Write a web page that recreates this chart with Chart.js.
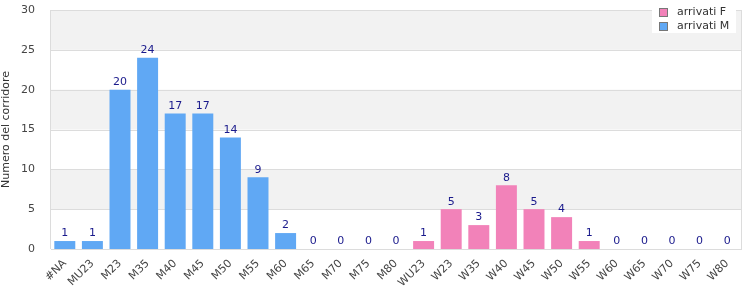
<!DOCTYPE html>
<html>
<head>
<meta charset="utf-8">
<script src="https://cdn.jsdelivr.net/npm/chart.js@4"></script>
<style>
  body { margin: 0; background: #fff; }
  #wrap { width: 750px; height: 300px; position: relative; }
</style>
</head>
<body>
<div id="wrap"><canvas id="chart" width="750" height="300"></canvas></div>
<script>
// DATA
const categories = ['#NA','MU23','M23','M35','M40','M45','M50','M55','M60','M65','M70','M75','M80',
  'WU23','W23','W35','W40','W45','W50','W55','W60','W65','W70','W75','W80'];
const arrivatiF = [0,0,0,0,0,0,0,0,0,0,0,0,0, 1,5,3,8,5,4,1,0,0,0,0,0];
const arrivatiM = [1,1,20,24,17,17,14,9,2,0,0,0,0, 0,0,0,0,0,0,0,0,0,0,0,0];
const yTicks = [0,5,10,15,20,25,30];

const FONT = 'DejaVu Sans';
const PINK = '#f282b9';
const BLUE = '#60a8f4';

// grey bands behind the bars
const bands = {
  id: 'bands',
  beforeDatasetsDraw(chart) {
    const { ctx, chartArea: a, scales: { y } } = chart;
    ctx.save();
    ctx.fillStyle = '#f2f2f2';
    [[25,30],[15,20],[5,10]].forEach(([lo, hi]) => {
      const t = y.getPixelForValue(hi), b = y.getPixelForValue(lo);
      ctx.fillRect(a.left, t, a.right - a.left, b - t);
    });
    ctx.strokeStyle = '#dcdcdc';
    ctx.lineWidth = 1;
    yTicks.forEach(v => {
      const p = Math.round(y.getPixelForValue(v)) + 0.5;
      ctx.beginPath(); ctx.moveTo(a.left, p); ctx.lineTo(a.right, p); ctx.stroke();
    });
    ctx.beginPath();
    ctx.moveTo(Math.round(a.right) + 0.5, a.top);
    ctx.lineTo(Math.round(a.right) + 0.5, a.bottom);
    ctx.moveTo(Math.round(a.left) - 0.5, a.top);
    ctx.lineTo(Math.round(a.left) - 0.5, a.bottom);
    ctx.stroke();
    ctx.restore();
  }
};

// totals above bars + legend box
const labels = {
  id: 'labels',
  afterDraw(chart) {
    const { ctx, scales: { x, y } } = chart;
    ctx.save();
    ctx.font = '11px "' + FONT + '"';
    ctx.fillStyle = '#1a1a8c';
    ctx.textAlign = 'center';
    ctx.textBaseline = 'bottom';
    categories.forEach((c, i) => {
      const tot = arrivatiF[i] + arrivatiM[i];
      ctx.fillText(String(tot), x.getPixelForValue(i), y.getPixelForValue(tot) - 2);
    });
    // legend
    ctx.fillStyle = '#fff';
    ctx.fillRect(652, 0, 84, 33);
    [['arrivati F', PINK], ['arrivati M', BLUE]].forEach(([t, col], k) => {
      const yy = 8 + k * 14;
      ctx.fillStyle = col;
      ctx.fillRect(659, yy, 8, 8);
      ctx.strokeStyle = '#777';
      ctx.strokeRect(659.5, yy + 0.5, 8, 8);
      ctx.fillStyle = '#333';
      ctx.textAlign = 'left';
      ctx.textBaseline = 'middle';
      ctx.fillText(t, 677, yy + 4.5);
    });
    ctx.restore();
  }
};

new Chart(document.getElementById('chart'), {
  type: 'bar',
  data: {
    labels: categories,
    datasets: [
      { label: 'arrivati F', data: arrivatiF, backgroundColor: PINK, borderWidth: 0, barPercentage: 0.76, categoryPercentage: 1 },
      { label: 'arrivati M', data: arrivatiM, backgroundColor: BLUE, borderWidth: 0, barPercentage: 0.76, categoryPercentage: 1 }
    ]
  },
  options: {
    responsive: false,
    animation: false,
    layout: { padding: { top: 10, right: 9, left: 0, bottom: 0 } },
    plugins: { legend: { display: false }, tooltip: { enabled: false } },
    scales: {
      x: {
        stacked: true,
        grid: { display: false },
        border: { color: '#dcdcdc' },
        ticks: { font: { family: FONT, size: 11 }, color: '#444', maxRotation: 45, minRotation: 45, autoSkip: false, padding: 0 },
        afterFit(s) { s.height = 51; s.paddingLeft = 0; s.paddingRight = 0; }
      },
      y: {
        stacked: true,
        min: 0, max: 30,
        grid: { display: false },
        border: { display: false },
        ticks: { stepSize: 5, font: { family: FONT, size: 11 }, color: '#444', padding: 8 },
        title: { display: true, text: 'Numero del corridore', font: { family: FONT, size: 11 }, color: '#333', padding: 0 },
        afterFit(s) { s.width = 51; s.paddingTop = 0; s.paddingBottom = 0; }
      }
    }
  },
  plugins: [bands, labels]
});
</script>
</body>
</html>
